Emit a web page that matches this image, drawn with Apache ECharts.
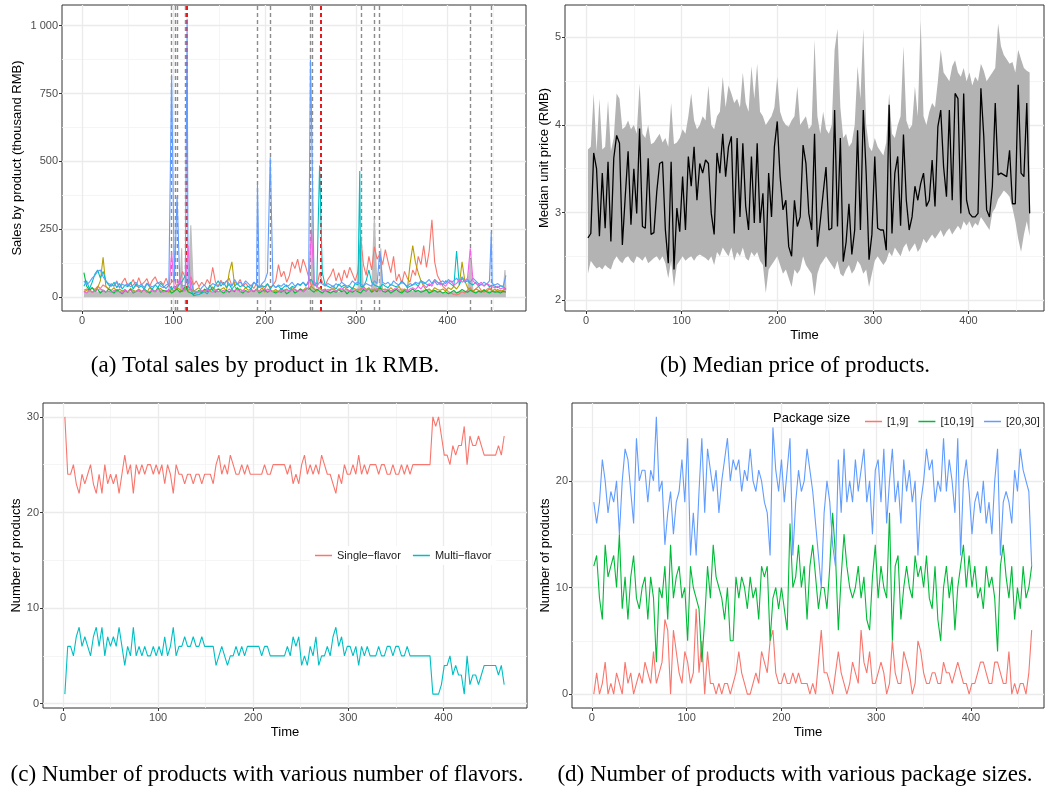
<!DOCTYPE html>
<html>
<head>
<meta charset="utf-8">
<script src="https://cdn.jsdelivr.net/npm/echarts@6/dist/echarts.min.js"></script>
<style>
html, body { margin: 0; background: #fff; }
#main { width: 1045px; height: 793px; }
</style>
</head>
<body>
<div id="main"></div>
<script>
// time index shared by every panel (one reading every 3 days)
var days = [];
for (var t = 2; t <= 464; t += 3) days.push(t);

// (a) sales by product, thousand RMB
var salesRed = [25,30,22,35,28,40,32,45,38,30, 50,42,60,35,55,70,40,48,65,38, 72,45,55,68,40,62,75,50,58,45,
  70,40,55,65,35,60,95,70,50,75, 45,60,38,55,42,65,48,110,55,40, 62,45,58,70,42,55,48,65,40,52,
  38,45,32,50,35,42,30,48,36,44, 60,120,75,95,55,80,130,105,140,90, 140,110,75,40,60,35,90,55,40,65,
  80,105,60,90,55,100,70,110,85,60, 95,225,120,80,150,100,185,140,160,120, 175,130,90,150,60,85,50,95,70,55,
  100,80,150,120,190,110,170,285,130,80, 60,40,30,20,15,10,8,12,20,15, 25,35,20,30,40,25,18,28,35,22,
  30,20,25,18,22];
var salesOlive = [20,25,30,18,22,35,60,147,40,30, 25,35,20,30,22,28,18,32,25,20, 30,22,26,18,35,24,20,28,32,22,
  25,18,30,22,35,28,20,32,25,30, 22,28,35,20,25,30,22,38,25,30, 28,35,22,90,130,40,25,30,22,35,
  25,30,20,28,22,35,18,30,25,22, 28,20,32,25,30,22,35,28,20,30, 25,35,28,40,30,22,35,25,30,20,
  28,35,22,30,25,38,28,22,35,30, 25,30,40,28,35,22,30,25,38,28, 30,22,35,25,28,40,20,30,25,120,
  190,127,90,60,40,25,30,22,35,28, 25,30,22,35,28,40,30,45,130,60, 35,28,22,30,25,20,28,22,30,25,
  20,28,22,25,30];
var salesGreen = [90,40,25,35,20,30,15,25,18,30, 22,15,28,20,12,25,18,30,15,22, 25,18,30,22,15,28,20,35,18,25,
  20,28,15,22,30,18,25,40,20,15, 10,18,25,15,30,20,45,25,18,30, 22,15,25,18,28,20,35,22,15,25,
  18,25,20,30,15,22,28,18,25,20, 15,22,18,25,12,20,28,15,22,30, 20,28,35,25,18,30,22,15,25,20,
  15,22,18,28,20,25,12,22,18,25, 20,15,28,22,30,18,25,20,35,22, 18,25,15,22,28,20,15,25,18,22,
  30,20,25,18,22,28,15,20,25,18, 22,15,20,12,18,25,15,20,28,22, 18,25,20,15,22,18,25,20,15,22,
  18,20,15,22,18];
var salesTeal = [40,60,30,55,85,100,70,95,60,45, 40,55,35,50,30,45,38,55,30,48, 35,42,28,50,38,30,45,35,52,40,
  32,45,28,40,35,50,60,80,40,30, 5,8,10,15,20,12,30,25,45,60, 40,55,35,48,30,42,50,38,45,35,
  40,30,55,45,35,42,38,50,30,45, 35,42,28,38,45,30,40,35,50,45, 55,40,60,65,45,50,38,90,45,40,
  35,42,30,48,38,45,35,40,30,50, 45,40,38,60,100,55,45,40,35,48, 40,35,48,42,38,45,60,50,35,40,
  45,50,40,60,55,48,42,50,65,55, 50,45,60,55,48,40,50,45,70,55, 60,50,45,55,40,48,42,50,38,45,
  40,35,42,38,30];
var salesBlue = [60,45,55,70,80,95,100,75,60,50, 45,40,55,35,48,42,50,38,45,55, 40,48,35,52,42,38,45,55,40,35,
  45,50,40,60,170,55,40,45,50,60, 25,15,20,35,45,30,40,50,45,38, 55,45,60,50,40,65,48,55,45,60,
  50,40,55,45,35,50,60,90,40,45, 35,45,40,50,38,45,55,40,48,42, 55,45,50,60,45,40,55,48,42,50,
  45,38,50,42,55,48,40,45,60,50, 55,48,42,50,45,40,60,50,170,55, 48,55,42,60,50,45,55,48,40,50,
  45,55,50,60,48,55,65,50,58,45, 55,60,50,65,55,60,70,55,75,60, 65,55,70,60,50,45,55,48,60,50,
  45,50,42,40,80];
var salesPink = [20,15,25,18,22,28,30,25,20,22, 18,25,20,22,15,28,20,25,18,22, 25,20,28,18,22,25,20,30,22,18,
  25,22,165,30,40,70,28,22,190,25, 20,22,18,25,20,28,22,18,25,20, 22,25,18,30,22,25,28,20,25,22,
  18,25,22,28,20,25,30,22,25,20, 22,18,25,20,28,22,25,30,22,25, 20,28,35,250,60,40,30,25,22,28,
  25,30,22,28,35,25,30,22,28,25, 30,25,35,22,28,30,25,32,22,28, 25,30,22,28,35,25,30,28,22,30,
  35,28,40,30,45,35,50,40,60,55, 45,50,40,55,60,45,50,65,55,60, 70,180,60,50,45,55,40,50,45,38,
  35,40,30,35,28];
var salesGrey = [22,18,25,20,24,18,22,26,20,23, 19,24,21,18,25,20,22,17,24,20, 23,19,25,21,18,24,20,22,26,19,
  24,20,30,22,26,20,40,24,28,22, 18,15,20,17,22,19,21,18,24,20, 22,19,25,20,23,18,22,20,24,21,
  19,23,20,25,22,18,24,20,22,19, 23,20,25,21,24,19,22,26,20,23, 25,28,22,30,35,24,21,25,20,23,
  19,24,21,18,22,20,25,21,24,20, 22,25,20,24,21,26,22,20,25,23, 20,24,22,26,21,23,20,25,22,24,
  21,25,20,23,26,22,24,20,25,22, 18,15,14,16,18,20,17,22,19,21, 24,20,22,19,23,21,25,20,22,24,
  21,23,20,22,25];
// single-day peaks [day, value]
var spikesBlue = [[98,820],[104,370],[115,1025],[192,415],[206,515],[250,875],[251,700],[448,240]];
var spikesTeal = [[260,485],[304,465],[410,170]];
var spikesGrey = [[109,180],[119,265],[252,400],[305,230],[320,290],[327,180],[425,140],[463,100]];
var breakDays = [98,102.5,104,112.5,191.5,206,249.5,251.5,306,320,325,425,448];
var redBreakDays = [114.5,261];

// (b) median unit price with its band, RMB
var priceMedian = [2.71,2.76,3.68,3.5,2.73,3.45,2.82,3.58,2.67,3.62, 3.88,3.79,2.63,3.18,3.7,2.86,3.5,2.99,3.96,2.84,
  2.82,3.62,2.75,2.77,3.24,3.56,3.58,2.8,2.42,3.58, 2.35,3.05,2.78,3.41,2.8,3.64,3.3,3.75,3.14,3.56,
  3.45,3.6,3.56,2.99,2.75,3.68,3.45,3.9,3.41,3.75, 3.87,2.76,3.85,2.95,3.79,3.07,2.8,3.64,2.88,3.79,
  2.88,3.22,2.38,3.45,2.95,3.75,4.04,3.41,3.03,3.14, 2.61,2.5,3.14,2.84,2.95,
  3.77,3.56,2.99,2.8,3.9,2.61,2.9,3.22,3.52,2.8, 2.82,4.17,2.84,3.85,2.44,2.66,3.1,2.52,2.8,3.94,
  2.8,4.17,3.45,2.46,2.75,3.64,2.82,2.8,2.8,2.57, 4.23,2.76,3.45,3.64,2.85,3.89,3.14,2.8,2.95,3.3,
  3.14,3.33,3.45,3.07,3.14,3.6,3.07,3.98,4.17,3.52, 3.18,4.17,3.14,4.36,4.3,2.99,4.36,3.14,2.99,2.95,
  2.95,2.99,4.42,3.87,3.03,2.95,3.3,4.25,3.43,3.45, 3.43,3.41,3.71,3.1,3.1,4.46,3.45,3.41,4.25,2.99];
var priceUpper = [3.72,3.75,4.36,3.7,4.3,3.72,3.75,4.28,3.7,3.85, 4.36,4.3,3.95,3.98,4.05,3.95,4.0,3.9,4.47,3.9,
  3.85,4.0,3.78,3.8,3.85,3.9,3.8,3.85,3.75,4.25, 3.78,3.8,3.85,3.95,3.9,4.1,4.36,4.05,3.95,4.0,
  4.1,4.05,4.45,4.0,3.95,4.1,4.15,4.55,4.2,4.45, 4.36,4.25,4.3,4.2,4.6,4.25,4.15,4.67,4.3,4.7,
  4.15,4.1,4.0,4.05,4.1,4.2,4.55,4.15,4.05,4.0, 3.98,4.05,4.1,4.44,4.0,
  4.05,4.1,3.95,4.0,4.97,4.1,3.9,4.15,3.95,3.9, 4.0,4.86,5.1,4.2,3.85,3.9,3.75,3.8,4.0,4.67,
  4.3,5.1,4.0,3.75,3.7,3.85,3.75,3.7,3.65,3.8, 4.36,3.9,3.85,4.0,4.1,4.9,4.05,3.95,4.0,4.44,
  4.1,5.2,4.1,4.0,4.15,4.25,4.2,4.5,4.86,4.6, 4.55,4.5,4.67,4.74,4.6,4.55,4.65,4.5,4.6,4.45,
  4.55,4.5,4.7,4.62,4.5,4.55,4.6,4.65,5.16,4.9, 4.8,4.75,4.7,4.72,4.6,4.86,4.75,4.65,4.62,4.6];
var priceLower = [2.3,2.45,2.4,2.36,2.38,2.35,2.4,2.37,2.35,2.45, 2.5,2.45,2.42,2.48,2.5,2.45,2.42,2.5,2.48,2.45,
  2.5,2.42,2.45,2.48,2.5,2.45,2.5,2.42,2.25,2.45, 2.15,2.4,2.45,2.5,2.45,2.48,2.5,2.45,2.5,2.52,
  2.5,2.48,2.45,2.5,2.4,2.55,2.5,2.6,2.55,2.5, 2.6,2.45,2.55,2.5,2.6,2.48,2.45,2.55,2.5,2.55,
  2.45,2.4,2.08,2.35,2.4,2.45,2.5,2.4,2.3,2.35, 2.25,2.15,2.35,2.3,2.35,
  2.5,2.4,2.35,2.3,2.04,2.3,2.4,2.45,2.5,2.45, 2.4,2.35,2.45,2.3,2.27,2.35,2.4,2.3,2.35,2.45,
  2.4,2.3,2.35,2.15,2.3,2.45,2.5,2.45,2.4,2.45, 2.55,2.5,2.6,2.55,2.5,2.6,2.65,2.55,2.6,2.65,
  2.55,2.6,2.7,2.65,2.7,2.75,2.7,2.75,2.8,2.72, 2.78,2.82,2.75,2.8,2.85,2.8,2.9,2.85,2.9,2.82,
  2.88,2.85,2.95,2.9,2.85,2.8,3.0,3.05,3.15,3.2, 3.25,3.22,3.18,3.05,2.9,2.7,2.55,2.75,2.9,2.73];

// (c) number of products by flavour type
var singleFlavor = [30,24,24,25,23,22,24,23,24,25, 23,22,24,22,25,23,24,23,24,22, 24,26,24,25,22,25,24,25,24,25,
  25,24,25,24,25,23,25,24,22,25, 24,24,23,24,24,23,24,24,23,24, 24,24,23,25,26,24,25,24,26,25,
  24,24,25,24,25,24,24,24,24,24, 25,24,24,25,25,25,25,25,24,25, 23,24,23,25,26,24,25,24,25,24,
  26,25,24,24,23,22,24,23,25,24, 24,25,24,26,24,25,24,25,25,25, 24,25,25,24,24,25,24,24,25,24,
  25,24,25,25,25,25,25,25,25,30, 29,30,28,26,26,25,27,26,27,27, 29,25,28,27,27,28,27,26,26,26,
  26,26,27,26,28];
var multiFlavor = [1,6,6,5,7,8,6,7,6,5, 7,8,6,8,5,7,6,7,6,8, 6,4,6,5,8,5,6,5,6,5,
  5,6,5,6,5,7,5,6,8,5, 6,6,7,6,6,7,6,6,7,6, 6,6,6,4,5,6,5,4,5,5,
  6,5,6,5,6,6,6,6,6,5, 6,6,5,5,5,5,5,5,6,5, 7,6,7,4,5,4,6,5,7,4,
  5,5,6,5,7,8,6,7,5,6, 6,5,6,4,6,5,6,5,5,5, 6,5,5,6,6,5,6,6,5,5,
  6,5,5,5,5,5,5,5,5,1, 1,1,2,4,4,5,3,4,3,3, 1,5,2,3,3,2,3,4,4,4,
  4,4,3,4,2];

// (d) number of products by package size
var pack1to9 = [0,2,0,1,3,0,1,0,2,1, 0,3,1,2,0,1,2,1,3,2, 1,4,1,2,3,7,6,0,6,4, 2,1,4,3,1,2,8,2,5,0,
  4,1,1,0,1,0,1,1,0,1, 2,4,2,1,0,0,1,2,1,4, 3,2,5,6,2,1,1,2,1,1, 2,1,2,1,1,
  1,0,1,0,3,6,2,2,1,0, 2,4,2,1,0,1,3,2,1,6, 3,2,4,1,1,2,3,2,0,1, 5,2,1,1,4,3,2,0,1,5,
  4,2,1,1,2,2,1,1,3,2, 2,1,2,3,2,1,1,0,1,1, 2,3,3,2,1,1,3,3,2,1, 1,4,0,1,0,1,1,0,2,6];
var pack10to19 = [12,13,9,7,14,11,12,13,10,15, 8,11,7,11,13,9,8,10,11,7, 11,9,3,10,9,12,7,14,9,11,
  12,9,10,5,12,10,9,8,3,7, 12,9,14,11,10,9,7,10,5,5, 11,9,11,10,8,11,9,10,7,12,
  11,12,5,9,10,8,10,8,6,16, 10,11,14,10,12,
  7,12,14,11,8,10,10,8,12,17, 13,6,11,15,12,10,9,10,12,9, 11,7,6,11,14,9,12,10,9,17,
  5,12,13,7,10,12,10,9,13,11, 12,10,13,9,8,12,7,5,10,12, 9,11,6,10,12,14,10,13,10,12,
  9,10,8,12,10,11,9,4,12,14, 11,9,12,7,10,8,12,9,10,12];
var pack20to30 = [18,16,18,22,20,17,19,18,20,15, 20,23,22,19,16,24,20,21,21,18, 21,20,26,19,20,14,17,19,15,18,
  19,22,18,24,13,17,13,19,24,17, 23,21,19,21,17,20,22,24,20,22, 21,22,19,21,20,23,20,19,21,20,
  18,17,13,25,21,19,22,18,21,24, 13,18,21,19,20,
  23,21,19,16,13,10,17,20,18,14, 12,22,17,23,18,20,18,22,19,21, 23,18,20,15,21,22,18,23,16,20,
  23,18,20,16,22,19,21,18,20,13, 18,20,23,21,22,18,20,19,24,19, 22,20,17,24,13,20,22,19,15,18,
  19,17,20,16,18,15,20,23,13,18, 19,18,16,21,19,23,21,20,19,12];

var SANS = "'Liberation Sans', Arial, sans-serif";
var SERIF = "'Liberation Serif', 'Times New Roman', serif";
var hue = ['#F8766D', '#B79F00', '#00BA38', '#00BFC4', '#619CFF', '#F564E3'];

function pairs(vals) {
  return days.map(function (d, i) { return [d, vals[i]]; });
}

function withSpikes(vals, spikes) {
  var pts = pairs(vals);
  spikes.forEach(function (s) {
    var hit = null;
    pts.forEach(function (p) { if (p[0] === s[0]) hit = p; });
    if (hit) hit[1] = s[1]; else pts.push([s[0], s[1]]);
  });
  pts.sort(function (a, b) { return a[0] - b[0]; });
  return pts;
}

function axis(gi, min, max, ticks, name, gap, fmt) {
  return {
    type: 'value', gridIndex: gi, min: min, max: max,
    name: name, nameLocation: 'middle', nameGap: gap,
    nameTextStyle: { color: '#000', fontSize: 13, fontFamily: SANS },
    axisLine: { show: false, onZero: false },
    axisTick: { show: true, length: 3, customValues: ticks, lineStyle: { color: '#333', width: 1 } },
    axisLabel: { show: true, customValues: ticks, color: '#4D4D4D', fontSize: 11, fontFamily: SANS, margin: 4, formatter: fmt },
    splitLine: { show: false }
  };
}

// theme_bw style grid, drawn through the axis scales, kept under the data
function gridLines(gi, xMajor, xMinor, yMajor, yMinor) {
  var d = [];
  var minor = { color: '#F2F2F2', width: 0.8, type: 'solid' };
  var major = { color: '#EBEBEB', width: 1.3, type: 'solid' };
  xMinor.forEach(function (v) { d.push({ xAxis: v, lineStyle: minor }); });
  yMinor.forEach(function (v) { d.push({ yAxis: v, lineStyle: minor }); });
  xMajor.forEach(function (v) { d.push({ xAxis: v, lineStyle: major }); });
  yMajor.forEach(function (v) { d.push({ yAxis: v, lineStyle: major }); });
  return {
    type: 'line', name: 'grid' + gi, xAxisIndex: gi, yAxisIndex: gi, data: [], z: 1, silent: true,
    markLine: { z: 1, symbol: ['none', 'none'], silent: true, animation: false, label: { show: false },
      emphasis: { disabled: true }, lineStyle: { type: 'solid' }, data: d }
  };
}

function line(gi, name, color, data, width, z) {
  return {
    type: 'line', name: name, xAxisIndex: gi, yAxisIndex: gi, data: data,
    showSymbol: false, symbol: 'none', z: z || 3,
    lineStyle: { color: color, width: width || 1.1 },
    itemStyle: { color: color },
    emphasis: { disabled: true }
  };
}

var timeTicks = [0, 100, 200, 300, 400];
var timeMinor = [50, 150, 250, 350, 450];

var series = [];
// (a)
series.push(gridLines(0, timeTicks, timeMinor, [0, 250, 500, 750, 1000], [125, 375, 625, 875]));
var greyLine = line(0, 'Other products', '#BEBEBE', withSpikes(salesGrey, spikesGrey), 1.1, 2);
greyLine.areaStyle = { color: '#BEBEBE', opacity: 1 };
series.push(greyLine);
var breaks = [];
breakDays.forEach(function (v) { breaks.push({ xAxis: v, lineStyle: { color: '#8C8C8C', width: 1.4, type: [4, 3] } }); });
redBreakDays.forEach(function (v) { breaks.push({ xAxis: v, lineStyle: { color: '#E41A1C', width: 2, type: [4, 3] } }); });
series.push({
  type: 'line', name: 'breaks', xAxisIndex: 0, yAxisIndex: 0, data: [], z: 2, silent: true,
  markLine: { z: 2, symbol: ['none', 'none'], silent: true, animation: false, label: { show: false },
    emphasis: { disabled: true }, data: breaks }
});
series.push(line(0, 'Product 1', hue[0], pairs(salesRed)));
series.push(line(0, 'Product 2', hue[1], pairs(salesOlive)));
series.push(line(0, 'Product 3', hue[2], pairs(salesGreen)));
series.push(line(0, 'Product 4', hue[3], withSpikes(salesTeal, spikesTeal)));
series.push(line(0, 'Product 5', hue[4], withSpikes(salesBlue, spikesBlue)));
series.push(line(0, 'Product 6', hue[5], pairs(salesPink)));

// (b) ribbon between lower and upper, placed through the axis coordinates
series.push(gridLines(1, timeTicks, timeMinor, [2, 3, 4, 5], [2.5, 3.5, 4.5]));
series.push({
  type: 'custom', name: 'price band', xAxisIndex: 1, yAxisIndex: 1, z: 2, silent: true, clip: true,
  data: [[days[0], priceLower[0]]],
  renderItem: function (params, api) {
    var pts = [];
    for (var i = 0; i < days.length; i++) pts.push(api.coord([days[i], priceUpper[i]]));
    for (var j = days.length - 1; j >= 0; j--) pts.push(api.coord([days[j], priceLower[j]]));
    return { type: 'polygon', shape: { points: pts }, style: { fill: '#B3B3B3' } };
  }
});
series.push(line(1, 'Median price', '#000000', pairs(priceMedian), 1.3, 3));

// (c)
series.push(gridLines(2, timeTicks, timeMinor, [0, 10, 20, 30], [5, 15, 25]));
series.push(line(2, 'Single\u2212flavor', '#F8766D', pairs(singleFlavor), 1.1));
series.push(line(2, 'Multi\u2212flavor', '#00BFC4', pairs(multiFlavor), 1.1));

// (d)
series.push(gridLines(3, timeTicks, timeMinor, [0, 10, 20], [5, 15, 25]));
series.push(line(3, '[1,9]', '#F8766D', pairs(pack1to9), 1.1));
series.push(line(3, '[10,19]', '#00BA38', pairs(pack10to19), 1.1));
series.push(line(3, '[20,30]', '#619CFF', pairs(pack20to30), 1.1));

var border = { show: true, backgroundColor: 'transparent', borderColor: '#333333', borderWidth: 1 };

var option = {
  animation: false,
  backgroundColor: '#ffffff',
  textStyle: { fontFamily: SANS },
  grid: [
    Object.assign({ left: 62, top: 5, width: 464, height: 306 }, border),
    Object.assign({ left: 565, top: 5, width: 479, height: 306 }, border),
    Object.assign({ left: 43, top: 403, width: 484, height: 305 }, border),
    Object.assign({ left: 572, top: 403, width: 472, height: 305 }, border)
  ],
  xAxis: [
    axis(0, -22, 486, timeTicks, 'Time', 18),
    axis(1, -22, 479, timeTicks, 'Time', 18),
    axis(2, -21, 488, timeTicks, 'Time', 18),
    axis(3, -21, 477, timeTicks, 'Time', 18)
  ],
  yAxis: [
    axis(0, -51, 1076, [0, 250, 500, 750, 1000], 'Sales by product (thousand RMB)', 38,
      function (v) { return v >= 1000 ? '1 000' : String(v); }),
    axis(1, 1.875, 5.37, [2, 3, 4, 5], 'Median unit price (RMB)', 14),
    axis(2, -0.45, 31.45, [0, 10, 20, 30], 'Number of products', 20),
    axis(3, -1.3, 27.3, [0, 10, 20], 'Number of products', 20)
  ],
  legend: [
    {
      data: ['Single\u2212flavor', 'Multi\u2212flavor'], left: 310, top: 546,
      icon: 'rect', itemWidth: 17, itemHeight: 1.5, itemGap: 12, selectedMode: false,
      backgroundColor: '#ffffff', padding: [4, 5],
      textStyle: { fontSize: 11, color: '#1A1A1A', fontFamily: SANS }
    },
    {
      data: ['[1,9]', '[10,19]', '[20,30]'], left: 860, top: 411,
      icon: 'rect', itemWidth: 17, itemHeight: 1.5, itemGap: 10, selectedMode: false,
      textStyle: { fontSize: 11, color: '#1A1A1A', fontFamily: SANS }
    }
  ],
  graphic: [
    { type: 'text', x: 773, y: 418, style: { text: 'Package size', fontSize: 13, fontFamily: SANS, fill: '#000', align: 'left', verticalAlign: 'middle' } },
    { type: 'text', x: 265, y: 366, style: { text: '(a) Total sales by product in 1k RMB.', fontSize: 23, fontFamily: SERIF, fill: '#000', align: 'center', verticalAlign: 'middle' } },
    { type: 'text', x: 795, y: 366, style: { text: '(b) Median price of products.', fontSize: 23, fontFamily: SERIF, fill: '#000', align: 'center', verticalAlign: 'middle' } },
    { type: 'text', x: 267, y: 775, style: { text: '(c) Number of products with various number of flavors.', fontSize: 23, fontFamily: SERIF, fill: '#000', align: 'center', verticalAlign: 'middle' } },
    { type: 'text', x: 795, y: 775, style: { text: '(d) Number of products with various package sizes.', fontSize: 23, fontFamily: SERIF, fill: '#000', align: 'center', verticalAlign: 'middle' } }
  ],
  series: series
};

var chart = echarts.init(document.getElementById('main'));
chart.setOption(option);
</script>
</body>
</html>
